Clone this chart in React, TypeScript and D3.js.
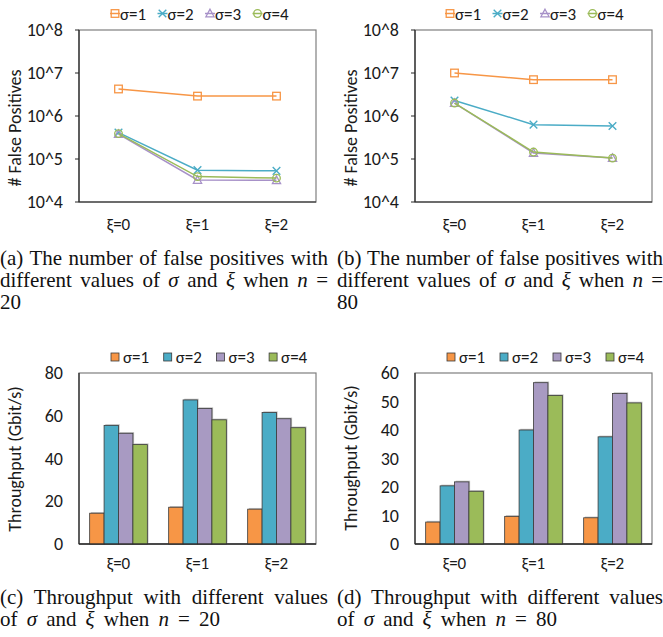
import { useEffect, useRef } from 'react';
import * as d3 from 'd3';

const xiLabels = ['ξ=0', 'ξ=1', 'ξ=2'];
const sigmaLabels = ['σ=1', 'σ=2', 'σ=3', 'σ=4'];

// # false positives, one row per sigma, one value per xi
const fpN20 = [
  [4.25e6, 2.9e6, 2.9e6],
  [4.1e5, 5.5e4, 5.3e4],
  [3.8e5, 3.25e4, 3.2e4],
  [3.9e5, 3.9e4, 3.6e4],
];
const fpN80 = [
  [1.0e7, 7.0e6, 7.0e6],
  [2.3e6, 6.3e5, 5.85e5],
  [2.0e6, 1.38e5, 1.05e5],
  [2.0e6, 1.45e5, 1.05e5],
];

// throughput (Gbit/s), one row per sigma
const tputN20 = [
  [14.4, 17.2, 16.3],
  [55.5, 67.4, 61.5],
  [51.8, 63.4, 58.6],
  [46.5, 58.1, 54.4],
];
const tputN80 = [
  [7.7, 9.7, 9.2],
  [20.4, 40.0, 37.6],
  [21.8, 56.6, 52.8],
  [18.5, 52.1, 49.5],
];

const fpTicks = [1e4, 1e5, 1e6, 1e7, 1e8];
const tputTicksN20 = [0, 20, 40, 60, 80];
const tputTicksN80 = [0, 10, 20, 30, 40, 50, 60];

const lineColors = ['#F79646', '#4BACC6', '#A791C8', '#9BBB59'];
const barColors = ['#F79646', '#4BACC6', '#A89AC2', '#9BBB59'];
const markerShapes = ['square', 'cross', 'triangle', 'circle'];

const chartFont = 'Carlito, Calibri, Lato, sans-serif';
const capFont = '"Liberation Serif", "Times New Roman", serif';

type Box = { left: number; right: number; top: number; bottom: number };
type Part = string | { i: string };

const capA: Part[][] = [
  ['(a) The number of false positives with'],
  ['different values of ', { i: 'σ' }, ' and ', { i: 'ξ' }, ' when ', { i: 'n' }, ' ='],
  ['20'],
];
const capB: Part[][] = [
  ['(b) The number of false positives with'],
  ['different values of ', { i: 'σ' }, ' and ', { i: 'ξ' }, ' when ', { i: 'n' }, ' ='],
  ['80'],
];
const capC: Part[][] = [
  ['(c) Throughput with different values'],
  ['of ', { i: 'σ' }, ' and ', { i: 'ξ' }, ' when ', { i: 'n' }, ' = 20'],
];
const capD: Part[][] = [
  ['(d) Throughput with different values'],
  ['of ', { i: 'σ' }, ' and ', { i: 'ξ' }, ' when ', { i: 'n' }, ' = 80'],
];

type Sel = d3.Selection<SVGGElement, unknown, null, undefined>;

function drawFrame(g: Sel, box: Box) {
  g.append('rect')
    .attr('x', box.left).attr('y', box.top)
    .attr('width', box.right - box.left).attr('height', box.bottom - box.top)
    .attr('fill', 'none').attr('stroke', '#7f7f7f').attr('stroke-width', 1.2);
  g.append('line')
    .attr('x1', box.left).attr('x2', box.left).attr('y1', box.top).attr('y2', box.bottom)
    .attr('stroke', '#262626').attr('stroke-width', 1.2);
  g.append('line')
    .attr('x1', box.left).attr('x2', box.right).attr('y1', box.bottom).attr('y2', box.bottom)
    .attr('stroke', '#262626').attr('stroke-width', 1.2);
}

function drawMarker(g: Sel, shape: string, cx: number, cy: number, color: string) {
  const s = 3.8;
  if (shape === 'square') {
    g.append('rect').attr('x', cx - s).attr('y', cy - s).attr('width', 2 * s).attr('height', 2 * s)
      .attr('fill', 'none').attr('stroke', color).attr('stroke-width', 1.3);
  } else if (shape === 'cross') {
    g.append('path')
      .attr('d', `M${cx - s},${cy - s}L${cx + s},${cy + s}M${cx - s},${cy + s}L${cx + s},${cy - s}`)
      .attr('stroke', color).attr('stroke-width', 1.4);
  } else if (shape === 'triangle') {
    g.append('path')
      .attr('d', `M${cx},${cy - s - 0.5}L${cx + s + 0.3},${cy + s - 0.5}L${cx - s - 0.3},${cy + s - 0.5}Z`)
      .attr('fill', 'none').attr('stroke', color).attr('stroke-width', 1.3);
  } else {
    g.append('circle').attr('cx', cx).attr('cy', cy).attr('r', s)
      .attr('fill', 'none').attr('stroke', color).attr('stroke-width', 1.3);
  }
}

function yLabel(g: Sel, text: string, x: number, y: number) {
  g.append('text')
    .attr('transform', `translate(${x},${y}) rotate(-90)`)
    .attr('text-anchor', 'middle')
    .attr('dominant-baseline', 'central')
    .style('font-family', chartFont)
    .style('font-size', '18px')
    .style('fill', '#1a1a1a')
    .text(text);
}

function drawLinePanel(g: Sel, data: number[][], box: Box, tickX: number, labelX: number,
  labelY: number, legendX: number) {
  const y = d3.scaleLog().domain([1e4, 1e8]).range([box.bottom, box.top]);
  const x = d3.scalePoint<string>().domain(xiLabels).range([box.left, box.right]).padding(0.5);

  drawFrame(g, box);

  fpTicks.forEach(t => {
    g.append('line').attr('x1', box.left - 4).attr('x2', box.left)
      .attr('y1', y(t)).attr('y2', y(t)).attr('stroke', '#262626');
    g.append('text')
      .attr('x', tickX).attr('y', y(t) + 6)
      .attr('text-anchor', 'end')
      .style('font-family', chartFont).style('font-size', '18px').style('fill', '#1a1a1a')
      .text(`10^${Math.round(Math.log10(t))}`);
  });

  xiLabels.forEach(l => {
    g.append('text')
      .attr('x', x(l)!).attr('y', box.bottom + 28)
      .attr('text-anchor', 'middle')
      .style('font-family', chartFont).style('font-size', '17px').style('fill', '#1a1a1a')
      .text(l);
  });

  yLabel(g, '# False Positives', labelX, labelY);

  const line = d3.line<number>().x((_, i) => x(xiLabels[i])!).y(d => y(d));
  data.forEach((series, si) => {
    g.append('path').attr('d', line(series)!)
      .attr('fill', 'none').attr('stroke', lineColors[si]).attr('stroke-width', 1.5);
    series.forEach((v, i) => drawMarker(g, markerShapes[si], x(xiLabels[i])!, y(v), lineColors[si]));
  });

  // legend
  sigmaLabels.forEach((l, si) => {
    const mx = legendX + si * 47.5;
    const ly = 13.5;
    g.append('line').attr('x1', mx - 5).attr('x2', mx + 5).attr('y1', ly).attr('y2', ly)
      .attr('stroke', lineColors[si]).attr('stroke-width', 1.5);
    drawMarker(g, markerShapes[si], mx, ly, lineColors[si]);
    g.append('text').attr('x', mx + 5).attr('y', ly + 6)
      .style('font-family', chartFont).style('font-size', '17px').style('fill', '#1a1a1a')
      .text(l);
  });
}

function drawBarPanel(g: Sel, data: number[][], ticks: number[], box: Box, tickX: number,
  labelX: number, labelY: number, legendX: number, legendStep: number) {
  const y = d3.scaleLinear().domain([ticks[0], ticks[ticks.length - 1]]).range([box.bottom, box.top]);
  const x0 = d3.scaleBand<string>().domain(xiLabels).range([box.left, box.right])
    .paddingInner(0.27).paddingOuter(0.135);
  const x1 = d3.scaleBand<string>().domain(sigmaLabels).range([0, x0.bandwidth()]);

  drawFrame(g, box);

  ticks.forEach(t => {
    g.append('text')
      .attr('x', tickX).attr('y', y(t) + 6)
      .attr('text-anchor', 'end')
      .style('font-family', chartFont).style('font-size', '18px').style('fill', '#1a1a1a')
      .text(t);
  });

  xiLabels.forEach(l => {
    g.append('text')
      .attr('x', x0(l)! + x0.bandwidth() / 2).attr('y', box.bottom + 25)
      .attr('text-anchor', 'middle')
      .style('font-family', chartFont).style('font-size', '17px').style('fill', '#1a1a1a')
      .text(l);
  });

  yLabel(g, 'Throughput (Gbit/s)', labelX, labelY);

  data.forEach((series, si) => {
    series.forEach((v, i) => {
      const bx = x0(xiLabels[i])! + x1(sigmaLabels[si])!;
      // soft shadow
      g.append('rect')
        .attr('x', bx + 1.2).attr('y', y(v) - 1.2)
        .attr('width', x1.bandwidth()).attr('height', box.bottom - y(v))
        .attr('fill', '#9a9a9a').attr('opacity', 0.6);
      g.append('rect')
        .attr('x', bx).attr('y', y(v))
        .attr('width', x1.bandwidth()).attr('height', box.bottom - y(v))
        .attr('fill', barColors[si]).attr('stroke', '#3a3a3a').attr('stroke-width', 0.8);
    });
  });

  // redraw axis over bar bottoms
  g.append('line')
    .attr('x1', box.left).attr('x2', box.right).attr('y1', box.bottom).attr('y2', box.bottom)
    .attr('stroke', '#262626').attr('stroke-width', 1.2);

  sigmaLabels.forEach((l, si) => {
    const sx = legendX + si * legendStep;
    g.append('rect').attr('x', sx).attr('y', 353).attr('width', 8).attr('height', 8)
      .attr('fill', barColors[si]).attr('stroke', '#3a3a3a').attr('stroke-width', 0.8);
    g.append('text').attr('x', sx + 12).attr('y', 363)
      .style('font-family', chartFont).style('font-size', '17px').style('fill', '#1a1a1a')
      .text(l);
  });
}

// lastWidth: width the (unjustified) last line takes in the original, math spacing included
function drawCaption(g: Sel, lines: Part[][], x: number, y: number, width: number, lastWidth = 0) {
  lines.forEach((parts, li) => {
    const t = g.append('text')
      .attr('x', x).attr('y', y + li * 22)
      .style('font-family', capFont).style('font-size', '21px').style('fill', '#111');
    parts.forEach(p => {
      if (typeof p === 'string') t.append('tspan').text(p);
      else t.append('tspan').style('font-style', 'italic').text(p.i);
    });
    const target = li < lines.length - 1 ? width : lastWidth;
    if (target > 0) {
      const node = t.node() as SVGTextElement;
      const len = node.getComputedTextLength();
      const text = parts.map(p => (typeof p === 'string' ? p : p.i)).join('');
      const spaces = (text.match(/ /g) || []).length;
      if (spaces > 0 && target > len) t.attr('word-spacing', (target - len) / spaces);
    }
  });
}

export default function App() {
  const svgRef = useRef<SVGSVGElement>(null);

  useEffect(() => {
    if (!svgRef.current) return;
    const svg = d3.select(svgRef.current);
    svg.selectAll('*').remove();
    const g = svg.append('g') as unknown as Sel;

    drawLinePanel(g, fpN20, { left: 79, right: 316, top: 30, bottom: 202 }, 63, 15, 128, 115);
    drawLinePanel(g, fpN80, { left: 415, right: 652, top: 30, bottom: 202 }, 399, 351, 128, 450);
    drawBarPanel(g, tputN20, tputTicksN20, { left: 79, right: 316, top: 373, bottom: 544 },
      63, 15, 459, 111, 52.7);
    drawBarPanel(g, tputN80, tputTicksN80, { left: 415, right: 652, top: 373, bottom: 544 },
      399, 351, 458, 447, 53);

    drawCaption(g, capA, 0, 265, 328);
    drawCaption(g, capB, 337, 265, 326);
    drawCaption(g, capC, 0, 604, 328, 220);
    drawCaption(g, capD, 337, 604, 326, 220);
  }, []);

  return (
    <svg ref={svgRef} width={663} height={637}
      style={{ position: 'absolute', left: 0, top: 0, background: '#fff' }} />
  );
}
